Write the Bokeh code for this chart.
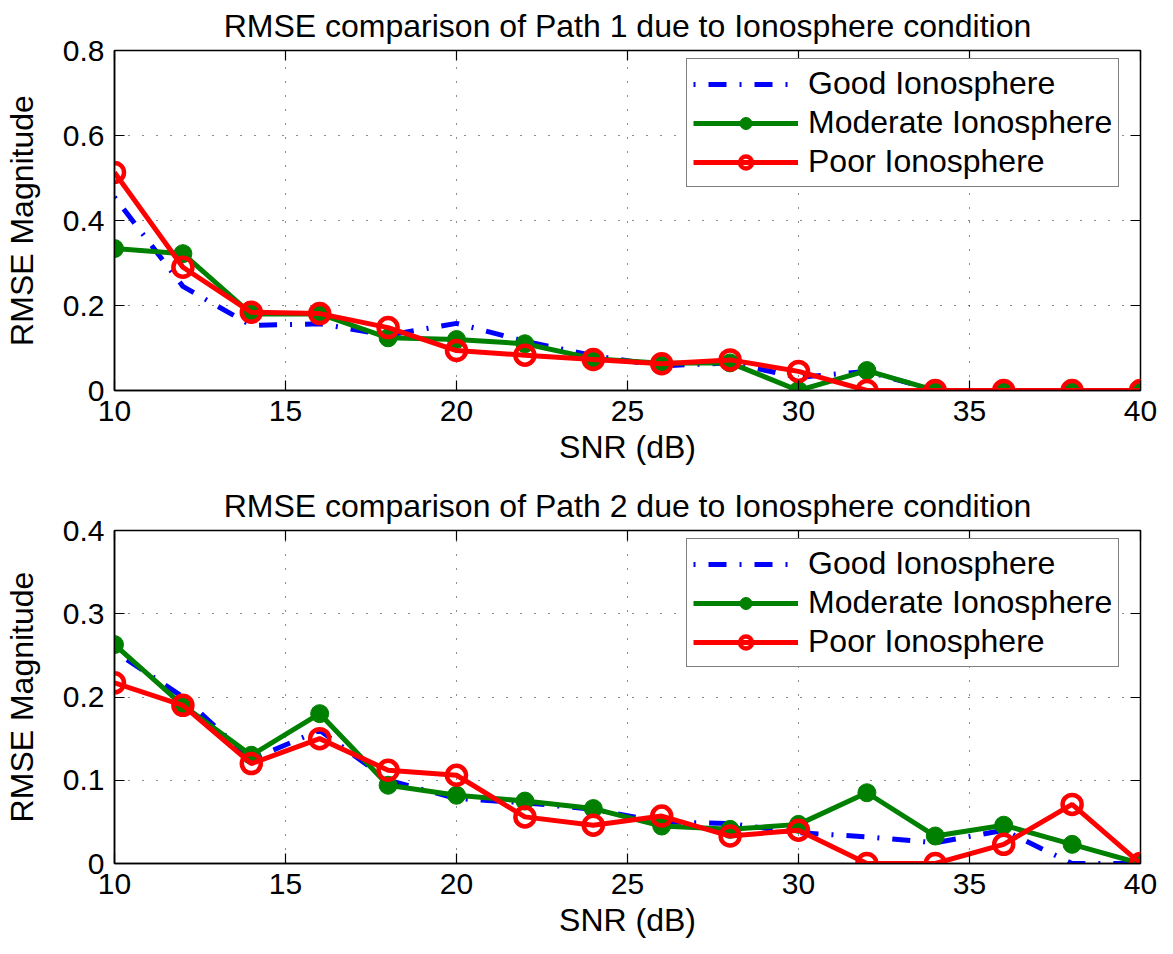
from bokeh.plotting import figure
from bokeh.layouts import column
from bokeh.models import (Range1d, FixedTicker, LinearAxis, Legend, LegendItem,
                          ColumnDataSource, CustomJSTickFormatter)
from bokeh.embed import file_html
from bokeh.resources import INLINE

FONT = "Liberation Sans"

# SNR axis shared by both panels
snr = [10, 12, 14, 16, 18, 20, 22, 24, 26, 28, 30, 32, 34, 36, 38, 40]

# Path 1 RMSE
good_path1 = [0.455, 0.245, 0.153, 0.157, 0.130, 0.158, 0.116, 0.082, 0.058, 0.065, 0.031, 0.045, 0.0, 0.0, 0.0, 0.0]
moderate_path1 = [0.334, 0.322, 0.180, 0.180, 0.124, 0.120, 0.110, 0.075, 0.064, 0.065, 0.0, 0.047, 0.0, 0.0, 0.0, 0.0]
poor_path1 = [0.513, 0.290, 0.184, 0.181, 0.148, 0.094, 0.083, 0.073, 0.063, 0.072, 0.045, 0.0, 0.0, 0.0, 0.0, 0.0]

# Path 2 RMSE
good_path2 = [0.255, 0.200, 0.125, 0.160, 0.100, 0.078, 0.073, 0.065, 0.050, 0.048, 0.037, 0.032, 0.025, 0.040, 0.0, 0.0]
moderate_path2 = [0.263, 0.190, 0.130, 0.180, 0.094, 0.082, 0.075, 0.066, 0.045, 0.041, 0.047, 0.085, 0.033, 0.046, 0.023, 0.0]
poor_path2 = [0.217, 0.190, 0.120, 0.150, 0.112, 0.106, 0.056, 0.046, 0.057, 0.033, 0.040, 0.0, 0.0, 0.023, 0.071, 0.0]

x_ticks = [10, 15, 20, 25, 30, 35, 40]
y_ticks_path1 = [0, 0.2, 0.4, 0.6, 0.8]
y_ticks_path2 = [0, 0.1, 0.2, 0.3, 0.4]

series_names = ["Good Ionosphere", "Moderate Ionosphere", "Poor Ionosphere"]


def style_axis(ax, show_labels=True):
    ax.axis_line_color = "black"
    ax.axis_line_width = 1.5
    ax.major_tick_in = 10
    ax.major_tick_out = 0
    ax.major_tick_line_color = "black"
    ax.major_tick_line_width = 1.2
    ax.minor_tick_line_color = None
    ax.major_label_text_font = FONT
    ax.major_label_text_font_size = "30px"
    ax.major_label_text_color = "black"
    ax.axis_label_text_font = FONT
    ax.axis_label_text_font_size = "32px"
    ax.axis_label_text_font_style = "normal"
    ax.axis_label_text_color = "black"
    if not show_labels:
        ax.formatter = CustomJSTickFormatter(code="return ''")
        ax.major_label_standoff = 0
        ax.axis_line_alpha = 0


def make_panel(title, good, moderate, poor, y_max, y_ticks, height, top, bottom, frame_h):
    p = figure(width=1173, height=height, output_backend="svg", toolbar_location=None,
               x_range=Range1d(10, 40), y_range=Range1d(0, y_max),
               min_border_left=109, min_border_right=33,
               min_border_top=top, min_border_bottom=bottom)
    p.title.text = title
    p.title.text_font = FONT
    p.title.text_font_size = "32px"
    p.title.text_font_style = "normal"
    p.title.text_color = "black"
    p.title.align = "center"
    p.title.vertical_align = "top"
    p.title.standoff = 10

    p.outline_line_color = "black"
    p.outline_line_width = 1.5
    p.background_fill_color = "white"
    p.border_fill_color = "white"

    p.xaxis.ticker = FixedTicker(ticks=x_ticks)
    p.yaxis.ticker = FixedTicker(ticks=y_ticks)
    p.yaxis.major_label_overrides = {0: "0"}
    p.xaxis.axis_label = "SNR (dB)"
    p.yaxis.axis_label = "RMSE Magnitude"
    style_axis(p.xaxis[0])
    style_axis(p.yaxis[0])
    p.xaxis.major_label_standoff = 10
    p.xaxis.axis_label_standoff = 5
    p.yaxis.major_label_standoff = 10
    p.yaxis.axis_label_standoff = 20

    # mirrored ticks on top and right edges
    top_ax = LinearAxis(ticker=FixedTicker(ticks=x_ticks))
    right_ax = LinearAxis(ticker=FixedTicker(ticks=y_ticks))
    style_axis(top_ax, show_labels=False)
    style_axis(right_ax, show_labels=False)
    p.add_layout(top_ax, "above")
    p.add_layout(right_ax, "right")

    for g in (p.xgrid[0], p.ygrid[0]):
        g.grid_line_color = "black"
        g.grid_line_width = 1
        g.grid_line_dash = "1 13"
        g.grid_line_alpha = 0.9

    src = ColumnDataSource(dict(snr=snr, good=good, moderate=moderate, poor=poor))

    good_line = p.line("snr", "good", source=src, line_color="#0000ff", line_width=5,
                       line_dash="2 13 18 13")
    mod_line = p.line("snr", "moderate", source=src, line_color="#008000", line_width=5)
    mod_pts = p.scatter("snr", "moderate", source=src, marker="circle", size=18,
                        fill_color="#008000", line_color="#008000", line_width=1)
    poor_line = p.line("snr", "poor", source=src, line_color="#ff0000", line_width=5)
    poor_pts = p.scatter("snr", "poor", source=src, marker="circle", size=19,
                         fill_color=None, line_color="#ff0000", line_width=4.5)

    legend = Legend(items=[
        LegendItem(label=series_names[0], renderers=[good_line]),
        LegendItem(label=series_names[1], renderers=[mod_line, mod_pts]),
        LegendItem(label=series_names[2], renderers=[poor_line, poor_pts]),
    ])
    legend.location = (572, frame_h - 11 - 126)
    legend.margin = 0
    legend.padding = 6
    legend.spacing = 2
    legend.glyph_width = 105
    legend.glyph_height = 30
    legend.label_height = 30
    legend.label_standoff = 10
    legend.label_text_font = FONT
    legend.label_text_font_size = "32px"
    legend.label_text_color = "black"
    legend.border_line_color = "black"
    legend.border_line_width = 1.5
    legend.background_fill_color = "white"
    legend.background_fill_alpha = 1
    p.add_layout(legend, "center")
    return p


p1 = make_panel("RMSE comparison of Path 1 due to Ionosphere condition",
                good_path1, moderate_path1, poor_path1, 0.8, y_ticks_path1,
                height=476, top=50, bottom=86, frame_h=340)
p2 = make_panel("RMSE comparison of Path 2 due to Ionosphere condition",
                good_path2, moderate_path2, poor_path2, 0.4, y_ticks_path2,
                height=474, top=54, bottom=87, frame_h=333)

layout = column(p1, p2, spacing=0)
open("out.html", "w").write(file_html(layout, INLINE))
